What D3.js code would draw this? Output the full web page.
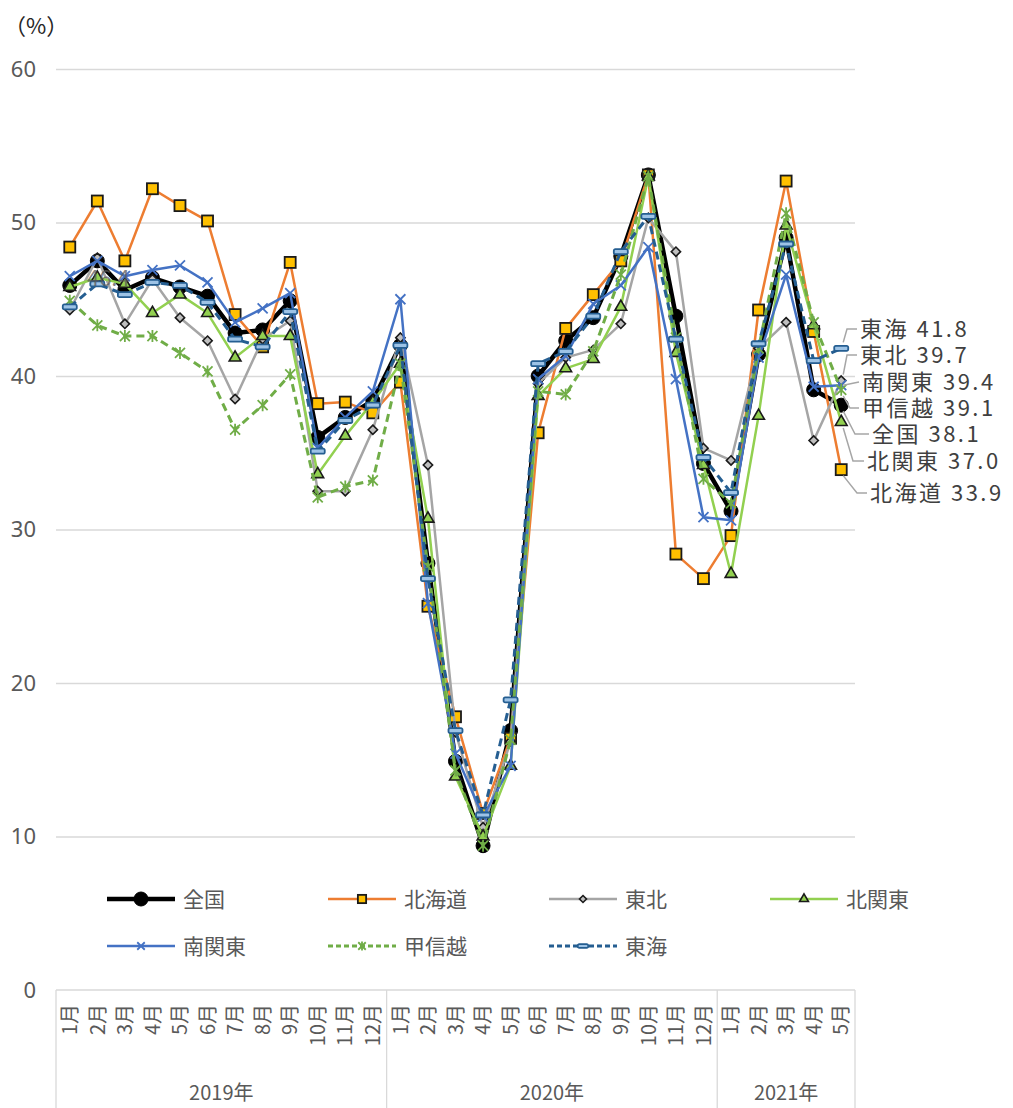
<!DOCTYPE html>
<html>
<head>
<meta charset="utf-8">
<script src="https://cdn.jsdelivr.net/npm/d3@7"></script>
<style>
body { margin: 0; background: #fff; }
text { font-family: "Noto Sans CJK JP", "Noto Sans", sans-serif; }
</style>
</head>
<body>
<div id="chart"></div>
<script>
// categories
var years = ["2019年", "2020年", "2021年"];
var monthsPerYear = [12, 12, 5];
var months = ["1月","2月","3月","4月","5月","6月","7月","8月","9月","10月","11月","12月",
              "1月","2月","3月","4月","5月","6月","7月","8月","9月","10月","11月","12月",
              "1月","2月","3月","4月","5月"];
var yTicks = [0, 10, 20, 30, 40, 50, 60];

// series values (%)
var zenkoku   = [45.9, 47.5, 45.6, 46.4, 45.8, 45.2, 42.8, 43.0, 44.9, 36.0, 37.3, 38.4, 42.0, 27.8, 14.9, 9.4, 16.9, 40.0, 42.3, 43.8, 47.8, 53.1, 43.9, 34.3, 31.2, 41.4, 49.0, 39.1, 38.1];
var hokkaido  = [48.4, 51.4, 47.5, 52.2, 51.1, 50.1, 44.0, 41.9, 47.4, 38.2, 38.3, 37.6, 39.6, 25.0, 17.8, 11.5, 16.4, 36.3, 43.1, 45.3, 47.5, 53.1, 28.4, 26.8, 29.6, 44.3, 52.7, 42.9, 33.9];
var tohoku    = [44.3, 47.7, 43.4, 46.3, 43.8, 42.3, 38.5, 42.4, 43.6, 32.5, 32.5, 36.5, 42.5, 34.2, 16.8, 10.6, 16.2, 39.5, 41.2, 41.7, 43.4, 50.3, 48.1, 35.3, 34.5, 41.8, 43.5, 35.8, 39.7];
var kitaKanto = [45.8, 46.4, 46.0, 44.1, 45.3, 44.1, 41.2, 42.6, 42.6, 33.6, 36.1, 38.3, 40.8, 30.7, 13.9, 10.0, 14.6, 38.7, 40.5, 41.1, 44.5, 53.0, 41.5, 34.2, 27.1, 37.4, 49.8, 43.3, 37.0];
var minamiKanto = [46.5, 47.5, 46.5, 46.9, 47.2, 46.1, 43.5, 44.4, 45.4, 35.3, 37.3, 39.0, 45.0, 25.2, 15.4, 11.3, 14.6, 39.8, 41.3, 44.7, 45.9, 48.4, 39.8, 30.8, 30.6, 41.2, 46.6, 39.3, 39.4];
var koshinetsu = [44.9, 43.3, 42.6, 42.6, 41.5, 40.3, 36.5, 38.1, 40.1, 32.1, 32.8, 33.2, 40.8, 27.6, 14.3, 9.4, 16.3, 39.0, 38.8, 41.6, 46.6, 53.0, 42.5, 33.3, 31.7, 41.8, 50.6, 43.5, 39.1];
var tokai     = [44.5, 46.0, 45.3, 46.1, 45.9, 44.8, 42.4, 41.9, 44.2, 35.1, 37.1, 38.1, 42.0, 26.8, 16.9, 11.4, 18.9, 40.8, 41.6, 43.9, 48.1, 50.4, 42.4, 34.7, 32.4, 42.1, 48.6, 41.0, 41.8];

var seriesNames = ["全国", "北海道", "東北", "北関東", "南関東", "甲信越", "東海"];
var seriesValues = [zenkoku, hokkaido, tohoku, kitaKanto, minamiKanto, koshinetsu, tokai];

// styles
var styles = [
    {color: "#000000", width: 4.5, dash: null,  marker: "circle"},
    {color: "#ED7D31", width: 2.5, dash: null,  marker: "square"},
    {color: "#A5A5A5", width: 2.5, dash: null,  marker: "diamond"},
    {color: "#92D050", width: 2.5, dash: null,  marker: "triangle"},
    {color: "#4472C4", width: 2.5, dash: null,  marker: "cross"},
    {color: "#70AD47", width: 3,   dash: "8,5", marker: "star"},
    {color: "#255E91", width: 3,   dash: "8,5", marker: "dash"}
];

// end label layout: text position and leader elbow
var endLabels = [
    {name: "東海",   tx: 860, ty: 329, ex: 847},
    {name: "東北",   tx: 860, ty: 355, ex: 847},
    {name: "南関東", tx: 862, ty: 382, ex: null},
    {name: "甲信越", tx: 862, ty: 408, ex: 850},
    {name: "全国",   tx: 872, ty: 434, ex: 855},
    {name: "北関東", tx: 867, ty: 461, ex: 853},
    {name: "北海道", tx: 870, ty: 493, ex: 857}
];

var W = 1013, H = 1108;
var svg = d3.select("#chart").append("svg")
    .attr("width", W)
    .attr("height", H);

var x = d3.scaleBand().domain(d3.range(months.length)).range([56, 855]);
var y = d3.scaleLinear().domain([0, 60]).range([990, 69]);
var bw = x.bandwidth();
function cx(i) { return x(i) + bw / 2; }

// gridlines
svg.append("g")
    .attr("transform", "translate(56,0)")
    .call(d3.axisLeft(y).tickValues(yTicks.filter(function (d) { return d > 0; }))
        .tickSize(-(855 - 56)).tickFormat(""))
    .call(function (g) { g.select(".domain").remove(); })
    .selectAll("line").attr("stroke", "#d9d9d9").attr("stroke-width", 1.3);

// y labels
svg.append("g")
    .attr("transform", "translate(36,0)")
    .call(d3.axisLeft(y).tickValues(yTicks).tickSize(0).tickPadding(0))
    .call(function (g) { g.select(".domain").remove(); })
    .selectAll("text")
    .attr("fill", "#595959")
    .style("font-size", "22px")
    .style("font-family", "'Noto Sans', sans-serif");

svg.append("text")
    .attr("x", 4).attr("y", 34)
    .attr("fill", "#262626")
    .style("font-size", "22px")
    .text("（%）");

// category axis
svg.append("line")
    .attr("x1", 56).attr("x2", 855)
    .attr("y1", y(0)).attr("y2", y(0))
    .attr("stroke", "#d9d9d9").attr("stroke-width", 1.3);

var start = 0;
var yearStarts = monthsPerYear.map(function (n) { var s = start; start += n; return s; });
var bounds = yearStarts.map(function (s) { return x(s); }).concat([x.range()[1]]);
svg.selectAll(".sep").data(bounds).enter().append("line")
    .attr("x1", function (d) { return d; }).attr("x2", function (d) { return d; })
    .attr("y1", y(0)).attr("y2", H)
    .attr("stroke", "#d9d9d9").attr("stroke-width", 1.3);

svg.selectAll(".month").data(months).enter().append("text")
    .attr("transform", function (d, i) { return "translate(" + cx(i) + ",1004) rotate(-90)"; })
    .attr("text-anchor", "end")
    .attr("dy", "0.36em")
    .attr("fill", "#595959")
    .style("font-size", "20px")
    .text(function (d) { return d; });

svg.selectAll(".year").data(years).enter().append("text")
    .attr("x", function (d, i) { return (bounds[i] + bounds[i + 1]) / 2; })
    .attr("y", 1100)
    .attr("text-anchor", "middle")
    .attr("fill", "#595959")
    .style("font-size", "20px")
    .text(function (d) { return d; });

// markers
function drawMarker(g, type, color, s) {
    if (type === "circle") {
        g.append("circle").attr("r", 7 * s).attr("fill", "#000").attr("stroke", "#000");
    } else if (type === "square") {
        g.append("rect").attr("x", -5.5 * s).attr("y", -5.5 * s).attr("width", 11 * s).attr("height", 11 * s)
            .attr("fill", "#FFC000").attr("stroke", "#1a1a1a").attr("stroke-width", 1.8);
    } else if (type === "diamond") {
        g.append("path").attr("d", d3.symbol().type(d3.symbolDiamond2).size(55 * s * s)())
            .attr("fill", "#bfbfbf").attr("stroke", "#1a1a1a").attr("stroke-width", 1.6);
    } else if (type === "triangle") {
        g.append("path").attr("d", d3.symbol().type(d3.symbolTriangle).size(60 * s * s)())
            .attr("fill", "#92D050").attr("stroke", "#1a1a1a").attr("stroke-width", 1.6);
    } else if (type === "cross") {
        var r = 5 * s;
        g.append("path").attr("d", "M" + (-r) + "," + (-r) + "L" + r + "," + r + "M" + (-r) + "," + r + "L" + r + "," + (-r))
            .attr("stroke", color).attr("stroke-width", 1.8).attr("fill", "none");
    } else if (type === "star") {
        var q = 5 * s;
        g.append("path").attr("d", "M" + (-q) + "," + (-q) + "L" + q + "," + q + "M" + (-q) + "," + q + "L" + q + "," + (-q) + "M0," + (-q * 1.2) + "L0," + (q * 1.2))
            .attr("stroke", color).attr("stroke-width", 1.8).attr("fill", "none");
    } else if (type === "dash") {
        g.append("rect").attr("x", -7 * s).attr("y", -2.5 * s).attr("width", 14 * s).attr("height", 5 * s)
            .attr("rx", 1.5).attr("fill", "#9dc3e6").attr("stroke", color).attr("stroke-width", 1.8);
    }
}

// lines
var line = d3.line()
    .x(function (d, i) { return cx(i); })
    .y(function (d) { return y(d); });

seriesValues.forEach(function (vals, k) {
    var st = styles[k];
    var g = svg.append("g");
    g.append("path")
        .datum(vals)
        .attr("d", line)
        .attr("fill", "none")
        .attr("stroke", st.color)
        .attr("stroke-width", st.width)
        .attr("stroke-linejoin", "round")
        .attr("stroke-dasharray", st.dash);
    vals.forEach(function (v, i) {
        var m = g.append("g").attr("transform", "translate(" + cx(i) + "," + y(v) + ")");
        drawMarker(m, st.marker, st.color, 1);
    });
});

// stray data label left in the original (北関東 2019年2月)
svg.append("text")
    .attr("x", cx(1) + 11).attr("y", y(kitaKanto[1]))
    .attr("text-anchor", "middle").attr("dy", "0.36em")
    .attr("fill", "#595959")
    .attr("opacity", 0.75)
    .style("font-size", "22px")
    .text(kitaKanto[1].toFixed(1));

// end labels with leader lines
endLabels.forEach(function (lab) {
    var k = seriesNames.indexOf(lab.name);
    var vals = seriesValues[k];
    var last = vals.length - 1;
    var px = cx(last), py = y(vals[last]);
    var pts = lab.ex === null
        ? [[px + 2, py], [lab.tx - 3, lab.ty]]
        : [[px + 2, py + (lab.ty > py ? 6 : -6)], [lab.ex, lab.ty], [lab.tx - 3, lab.ty]];
    svg.append("path")
        .attr("d", d3.line()(pts))
        .attr("fill", "none")
        .attr("stroke", "#a6a6a6")
        .attr("stroke-width", 1.5);
    svg.append("text")
        .attr("x", lab.tx).attr("y", lab.ty)
        .attr("dy", "0.36em")
        .attr("fill", "#404040")
        .style("font-size", "22px")
        .style("letter-spacing", "2.5px")
        .text(lab.name + " " + vals[last].toFixed(1));
});

// legend
var legendPos = [[107, 899], [328, 899], [549, 899], [770, 899], [107, 946], [328, 946], [549, 946]];
seriesNames.forEach(function (name, k) {
    var st = styles[k];
    var p = legendPos[k];
    var g = svg.append("g").attr("transform", "translate(" + p[0] + "," + p[1] + ")");
    g.append("line")
        .attr("x1", 0).attr("x2", 68)
        .attr("stroke", st.color)
        .attr("stroke-width", st.width)
        .attr("stroke-dasharray", st.dash ? "5,3" : null);
    var m = g.append("g").attr("transform", "translate(34,0)");
    drawMarker(m, st.marker, st.color, k === 0 ? 1 : 0.75);
    g.append("text")
        .attr("x", 76).attr("dy", "0.36em")
        .attr("fill", "#595959")
        .style("font-size", "21px")
        .text(name);
});
</script>
</body>
</html>
